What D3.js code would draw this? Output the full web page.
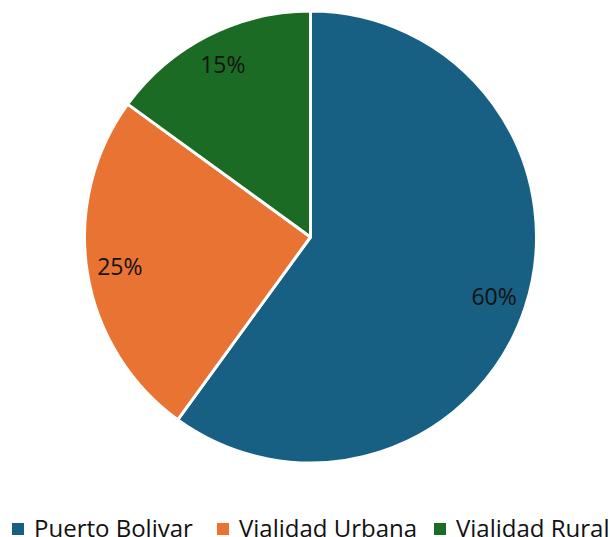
<!DOCTYPE html>
<html>
<head>
<meta charset="utf-8">
<script src="https://cdn.jsdelivr.net/npm/d3@7"></script>
<style>
  body { margin: 0; background: #fff; overflow: hidden; }
  text { font-family: "Open Sans", "Noto Sans", sans-serif; }
</style>
</head>
<body>
<div id="chart"></div>
<script>
// data
const categories = ["Puerto Bolivar", "Vialidad Urbana", "Vialidad Rural"];
const values = [60, 25, 15];
const colors = ["#176083", "#e97333", "#1b6b24"];

const width = 610, height = 537;
const cx = 310.5, cy = 237, radius = 226;

const svg = d3.select("#chart")
    .append("svg")
    .attr("width", width)
    .attr("height", height);

const data = categories.map(function(c, i) { return {name: c, value: values[i], color: colors[i]}; });

const pie = d3.pie()
    .value(function(d) { return d.value; })
    .sort(null);

const arc = d3.arc().innerRadius(0).outerRadius(radius);
const labelArc = d3.arc().innerRadius(193).outerRadius(193);

const g = svg.append("g")
    .attr("transform", "translate(" + cx + "," + cy + ")");

const slices = g.selectAll(".slice")
    .data(pie(data))
    .enter().append("g");

slices.append("path")
    .attr("d", arc)
    .attr("fill", function(d) { return d.data.color; })
    .attr("stroke", "#fff")
    .attr("stroke-width", 3)
    .attr("stroke-linejoin", "round");

slices.append("text")
    .attr("transform", function(d) { return "translate(" + labelArc.centroid(d) + ")"; })
    .attr("text-anchor", "middle")
    .attr("dy", "0.35em")
    .style("font-size", "23px")
    .style("fill", "#111")
    .text(function(d) { return d.data.value + "%"; });

// legend along the bottom, partly cut by the frame like the original
const legendX = [12, 217, 434];
const legend = svg.selectAll(".legend")
    .data(data)
    .enter().append("g")
    .attr("transform", function(d, i) { return "translate(" + legendX[i] + ",523)"; });

legend.append("rect")
    .attr("width", 12)
    .attr("height", 12)
    .attr("fill", function(d) { return d.color; });

legend.append("text")
    .attr("x", 22)
    .attr("y", 14)
    .style("font-size", "24px")
    .style("fill", "#111")
    .text(function(d) { return d.name; });
</script>
</body>
</html>
